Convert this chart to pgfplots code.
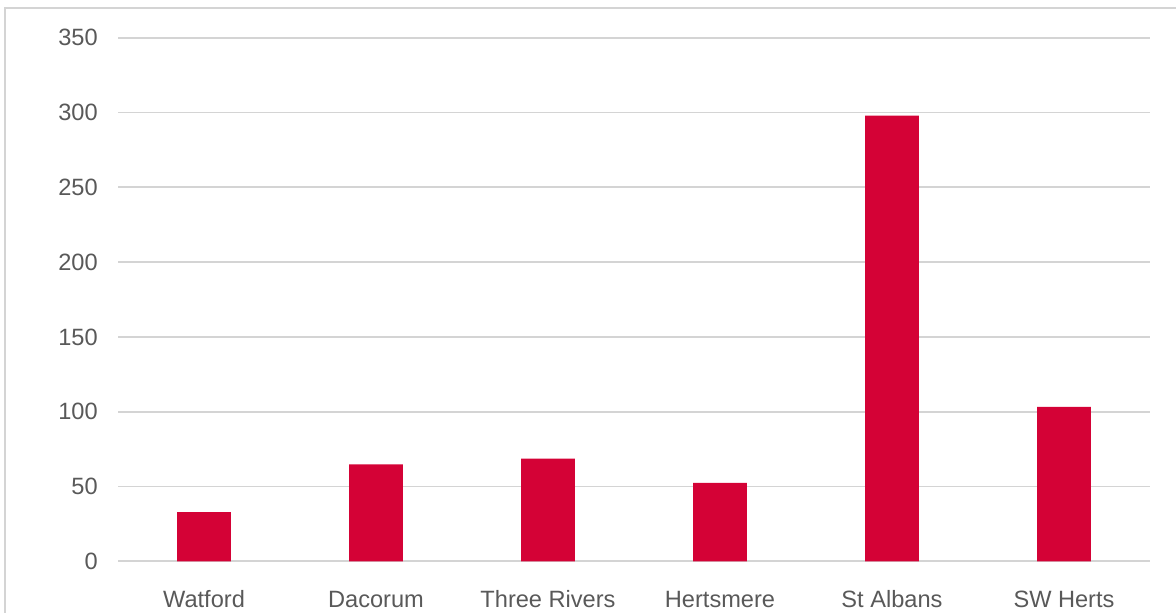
\documentclass[border=0pt]{standalone}
\usepackage{fontspec}
\setmainfont{Liberation Sans}
\usepackage{pgfplots}
\pgfplotsset{compat=1.18}
\definecolor{barred}{RGB}{212,2,54}
\definecolor{gridgray}{RGB}{212,212,212}
\definecolor{labelgray}{RGB}{89,89,89}
\begin{document}
\begin{tikzpicture}
\useasboundingbox (0,0) rectangle (588pt,306pt);
\draw[gridgray, line width=0.9pt] (2.5pt,-10pt) rectangle (600pt,302pt);
\begin{axis}[
  at={(59pt,25.35pt)}, anchor=south west,
  scale only axis, width=516pt, height=261.8pt,
  xmin=-0.5, xmax=5.5, ymin=0, ymax=350,
  ybar, bar width=26.8pt,
  xtick={0,1,2,3,4,5},
  xticklabels={Watford,Dacorum,Three Rivers,Hertsmere,St Albans,SW Herts},
  ytick={0,50,100,150,200,250,300,350},
  ymajorgrids, major grid style={gridgray, line width=0.85pt},
  axis line style={draw=none}, tick style={draw=none},
  /pgf/number format/assume math mode=true,
  ticklabel style={font=\fontsize{11.8pt}{14pt}\selectfont, text=labelgray},
  yticklabel style={xshift=-6.6pt},
  xticklabel style={anchor=base, yshift=-18.8pt},
  clip=false,
]
\addplot[fill=barred, draw=none] coordinates {(0,32.8) (1,64.8) (2,68.6) (3,52.5) (4,297.9) (5,103.3)};
\end{axis}
\end{tikzpicture}
\end{document}
